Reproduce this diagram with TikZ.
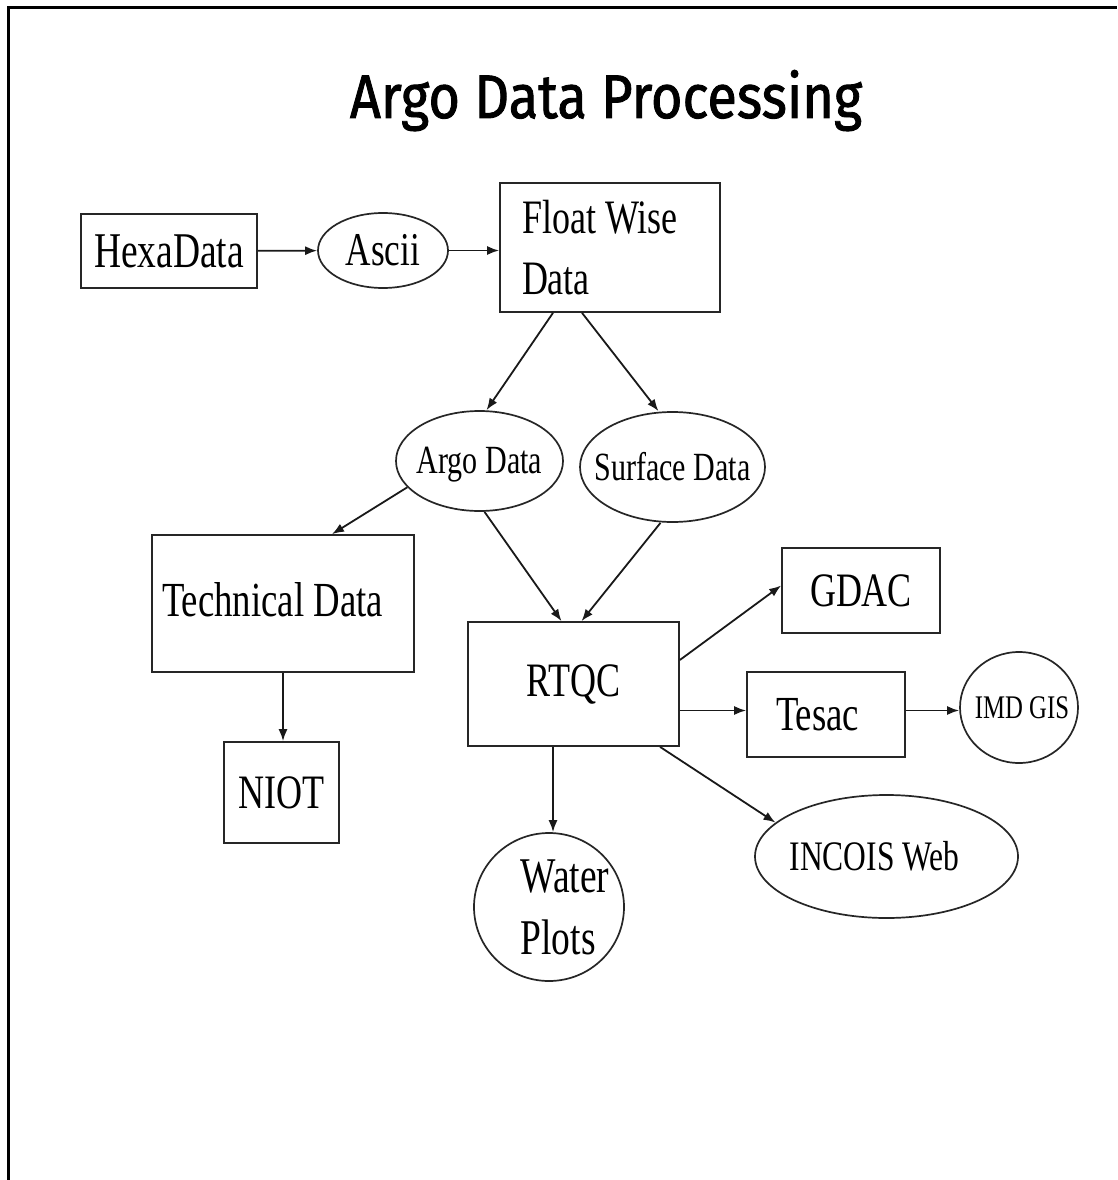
\documentclass[tikz,border=0pt]{standalone}
\usepackage{graphicx}
\usepackage{fontspec}
\setmainfont{Liberation Serif}[FakeStretch=0.75]
\newfontfamily\titlefont{Fira Sans}[FakeBold=1.5]
\usetikzlibrary{arrows.meta,shapes.geometric}

\newcommand\fsz[2]{\fontsize{#1}{#2}\selectfont}

\tikzset{
  outline/.style={draw=black!85, line width=1.7pt},
  box/.style={outline, rectangle, inner sep=0pt},
  oval/.style={outline, ellipse, inner sep=0pt},
  txt/.style={inner sep=0pt, align=flush left},
  link/.style={draw=black!90, line width=1.8pt, -{Latex[length=12pt,width=9pt]}},
}

\begin{document}
\begin{tikzpicture}[x=1pt,y=-1pt]
\useasboundingbox (0,0) rectangle (1117,1180);
\fill[white] (0,0) rectangle (1117,1180);

% page frame (top and left edges)
\draw[line width=3.5pt] (8.5,1180) -- (8.5,7.5) -- (1117,7.5);

% title
\node[anchor=base, inner sep=0pt] (title) at (606,118)
  {\resizebox{512pt}{48pt}{\titlefont Argo Data Processing}};

% boxes
\node[box, minimum width=176pt, minimum height=74pt, font=\fsz{50}{60}] (hexa) at (169,251) {HexaData};
\node[box, minimum width=220pt, minimum height=129pt, text width=176pt, align=flush left,
      inner xsep=22pt, font=\fsz{48}{61}] (float) at (610,247.5) {Float Wise\\Data};
\node[box, minimum width=262pt, minimum height=137pt, text width=242pt, align=flush left,
      inner xsep=10pt, text depth=9pt, font=\fsz{49}{58}] (tech) at (283,603.5) {Technical Data};
\node[box, minimum width=115pt, minimum height=101pt, font=\fsz{48}{58}] (niot) at (281.5,792.5) {NIOT};
\node[box, minimum width=211pt, minimum height=124pt, font=\fsz{48}{58}] (rtqc) at (573.5,684) {RTQC};
\node[box, minimum width=158pt, minimum height=85pt, font=\fsz{48}{58}] (gdac) at (861,590.5) {GDAC};
\node[box, minimum width=158pt, minimum height=85pt, text width=100pt, align=flush left,
      inner xsep=29pt, font=\fsz{49}{58}] (tesac) at (826,714.5) {Tesac};

% ellipses
\node[oval, minimum width=130pt, minimum height=75pt,
      label={[txt, name=ascii-t, font=\fsz{47}{56}]center:Ascii}] (ascii) at (383,250.5) {};
\node[oval, minimum width=167pt, minimum height=100pt,
      label={[txt, name=argo-t, yshift=-4pt, font=\fsz{40}{48}]center:Argo Data}] (argo) at (479.5,461) {};
\node[oval, minimum width=185pt, minimum height=110pt,
      label={[txt, name=surface-t, font=\fsz{40}{48}]center:Surface Data}] (surface) at (672.5,467) {};
\node[oval, minimum width=118pt, minimum height=111pt,
      label={[txt, name=imd-t, xshift=3pt, font=\fsz{33}{40}]center:IMD GIS}] (imd) at (1019,707.5) {};
\node[oval, minimum width=150pt, minimum height=148pt,
      label={[txt, name=water-t, xshift=16pt, font=\fsz{50}{62}]center:Water\\Plots}] (water) at (549,907) {};
\node[oval, minimum width=263pt, minimum height=123pt,
      label={[txt, name=incois-t, xshift=-12pt, font=\fsz{42}{50}]center:INCOIS Web}] (incois) at (886.5,856.5) {};

% helper points for straight connectors
\coordinate (tesac-in) at ([yshift=4pt]tesac.west);
\coordinate (tesac-out) at ([yshift=4pt]tesac.east);
\coordinate (rtqc-down) at ([xshift=-20.5pt]rtqc.south);

% connectors
\draw[link] (hexa) -- (ascii);
\draw[link] (ascii.east) -- (ascii.east -| float.west);
\draw[link] ([xshift=-57pt]float.south) -- ([xshift=7pt]argo.north);
\draw[link] ([xshift=-28pt]float.south) -- ([xshift=-14pt]surface.north);
\draw[link] (argo.200) -- ([xshift=49pt]tech.north);
\draw[link] ([xshift=5pt]argo.south) -- ([xshift=-12pt]rtqc.north);
\draw[link] ([xshift=-12pt]surface.south) -- ([xshift=8pt]rtqc.north);
\draw[link] ([yshift=24pt]rtqc.east) -- ([yshift=5pt]gdac.west);
\draw[link] (tesac-in -| rtqc.east) -- (tesac-in);
\draw[link] (tesac-out) -- (tesac-out -| imd.west);
\draw[link] (rtqc-down) -- (rtqc-down |- water.north);
\draw[link] ([xshift=86.5pt]rtqc.south) -- (incois.163);
\draw[link] (tech.south) -- (tech.south |- niot.north);
\end{tikzpicture}
\end{document}
